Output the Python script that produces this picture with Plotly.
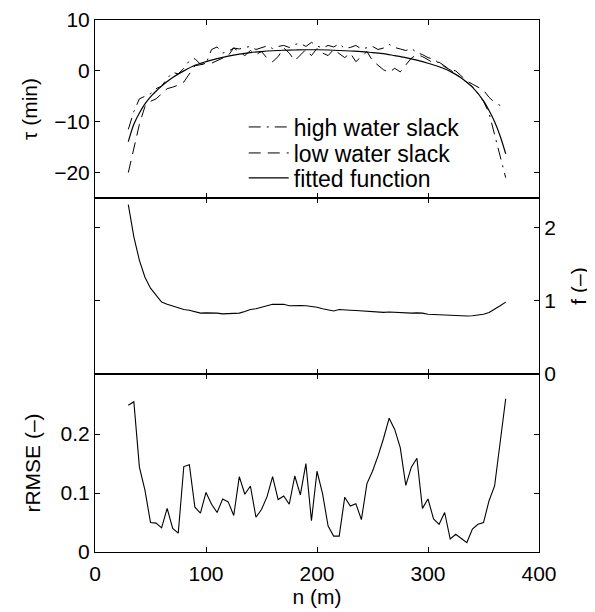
import plotly.graph_objects as go

# ---------------- data ----------------
n_obs = list(range(30, 371, 5))          # 30..370 step 5
n_low = list(range(30, 366, 5))          # 30..365 step 5

tau_high = [-11.5, -8.0, -5.5, -5.0, -4.5, -3.5, -3.0, -1.5, -0.3, -0.6,
            0.5, 2.0, 2.4, 1.3, 1.4, 4.2, 4.7, 3.5, 3.8, 4.5,
            4.3, 4.6, 4.8, 4.2, 4.5, 4.9, 4.4, 4.8, 5.0, 4.6,
            5.2, 5.4, 4.8, 5.6, 4.9, 4.5, 5.0, 4.7, 5.3, 4.4,
            4.6, 5.0, 4.3, 4.6, 4.8, 4.2, 4.5, 5.2, 4.6, 4.3,
            4.0, 4.4, 3.6, 3.2, 2.6, 2.3, 1.5, 0.8, 0.2, -0.6,
            -1.5, -2.3, -3.1, -4.5, -6.0, -8.3, -12.7, -17.0, -21.0]

tau_low = [-20.0, -15.5, -10.5, -7.0, -6.0, -5.5, -4.5, -3.5, -3.2, -2.8,
           -2.2, -0.6, 1.0, 1.2, 1.5, 1.5, 2.0, 2.4, 3.0, 4.5,
           3.8, 3.0, 4.0, 3.2, 3.8, 2.5, 1.8, 2.8, 4.5, 3.5,
           2.0, 3.2, 4.2, 3.0, 4.4, 3.5, 3.0, 4.2, 3.4, 2.6,
           3.5, 1.8, 2.8, 3.8, 2.0, 1.0, 0.2, -0.3, 0.5, -0.2,
           1.2, 2.5, 3.2, 2.8, 2.2, 1.5, 1.7, 1.0, 0.2, 0.0,
           -1.0, -2.0, -2.6, -3.2, -3.8, -5.2, -6.2, -6.8]

n_fit = [30, 35, 40, 45, 50, 55, 60, 65, 70, 80, 90, 100, 110, 120, 130, 140,
         150, 160, 170, 180, 190, 200, 210, 220, 230, 240, 250, 260, 270,
         280, 290, 300, 310, 320, 330, 340, 350, 355, 360, 365, 370]
tau_fit = [-13.9, -10.5, -8.3, -6.5, -5.1, -4.0, -3.0, -2.1, -1.3, 0.0, 1.1,
           1.8, 2.4, 2.9, 3.3, 3.6, 3.8, 3.95, 4.05, 4.1, 4.15, 4.15, 4.1,
           4.0, 3.9, 3.8, 3.6, 3.4, 3.0, 2.6, 2.1, 1.5, 0.8, -0.1, -1.4,
           -3.2, -5.9, -7.8, -10.0, -12.8, -16.3]

f_vals = [2.31, 1.87, 1.55, 1.32, 1.17, 1.07, 0.98, 0.95, 0.925, 0.91,
          0.88, 0.87, 0.853, 0.83, 0.834, 0.834, 0.83, 0.82, 0.82, 0.82,
          0.83, 0.853, 0.88, 0.89, 0.91, 0.94, 0.95, 0.95, 0.95, 0.93,
          0.935, 0.935, 0.93, 0.925, 0.91, 0.89, 0.87, 0.86, 0.88, 0.88,
          0.87, 0.865, 0.86, 0.85, 0.845, 0.845, 0.84, 0.845, 0.84, 0.83,
          0.83, 0.83, 0.834, 0.83, 0.815, 0.81, 0.807, 0.805, 0.80, 0.80,
          0.795, 0.79, 0.795, 0.80, 0.815, 0.84, 0.88, 0.93, 0.98]

rrmse = [0.249, 0.255, 0.144, 0.105, 0.050, 0.049, 0.041, 0.074, 0.040, 0.032,
         0.145, 0.148, 0.076, 0.066, 0.101, 0.081, 0.067, 0.090, 0.085, 0.062,
         0.128, 0.098, 0.112, 0.059, 0.072, 0.094, 0.128, 0.089, 0.095, 0.081,
         0.129, 0.097, 0.150, 0.053, 0.137, 0.099, 0.044, 0.027, 0.027, 0.093,
         0.078, 0.082, 0.055, 0.116, 0.137, 0.163, 0.193, 0.227, 0.208, 0.177,
         0.113, 0.144, 0.159, 0.074, 0.090, 0.056, 0.047, 0.067, 0.022, 0.030,
         0.023, 0.016, 0.039, 0.047, 0.050, 0.087, 0.112, 0.187, 0.260]

x_ticks = [0, 100, 200, 300, 400]
tau_ticks = [-20, -10, 0, 10]
f_ticks = [0, 1, 2]
r_ticks = [0, 0.1, 0.2]

# ---------------- figure ----------------
FONT = "Liberation Sans, Arial, Helvetica, sans-serif"
fig = go.Figure()

fig.add_trace(go.Scatter(x=n_obs, y=tau_high, mode="lines", name="high water slack",
                         line=dict(color="black", width=1, dash="12px,6px,2px,6px"),
                         xaxis="x3", yaxis="y3", legend="legend"))
fig.add_trace(go.Scatter(x=n_low, y=tau_low, mode="lines", name="low water slack",
                         line=dict(color="black", width=1, dash="12px,7px"),
                         xaxis="x3", yaxis="y3", legend="legend2"))
fig.add_trace(go.Scatter(x=n_fit, y=tau_fit, mode="lines", name="fitted function",
                         line=dict(color="black", width=1.2, shape="spline", smoothing=0.8),
                         xaxis="x3", yaxis="y3", legend="legend3"))
fig.add_trace(go.Scatter(x=n_obs, y=f_vals, mode="lines", showlegend=False,
                         line=dict(color="black", width=1.1),
                         xaxis="x2", yaxis="y2"))
fig.add_trace(go.Scatter(x=n_obs, y=rrmse, mode="lines", showlegend=False,
                         line=dict(color="black", width=1.1),
                         xaxis="x", yaxis="y"))

axis_common = dict(showline=True, linecolor="black", linewidth=1, mirror="ticks",
                   ticks="inside", ticklen=5, tickwidth=1, tickcolor="black",
                   showgrid=False, zeroline=False, automargin=False,
                   tickfont=dict(family=FONT, size=21, color="black"))

d1 = 178 / 532
d2 = 354 / 532


def leg(ypos):
    return dict(x=0.335, y=ypos, xanchor="left", yanchor="middle",
                bgcolor="rgba(0,0,0,0)", borderwidth=0,
                font=dict(family=FONT, size=23, color="black"), itemwidth=40)


fig.update_layout(
    width=587, height=604,
    margin=dict(l=87, r=56, t=12, b=60),
    paper_bgcolor="white", plot_bgcolor="white",
    font=dict(family=FONT, size=21, color="black"),
    showlegend=True,
    legend=leg((552 - 127) / 532),
    legend2=leg((552 - 153) / 532),
    legend3=leg((552 - 178) / 532),
    xaxis=dict(axis_common, domain=[0, 1], range=[0, 400], tickvals=x_ticks,
               anchor="y", ticklabelstandoff=3,
               title=dict(text="n (m)", font=dict(family=FONT, size=21), standoff=5)),
    xaxis2=dict(axis_common, domain=[0, 1], range=[0, 400], tickvals=x_ticks,
                matches="x", anchor="y2", showticklabels=False),
    xaxis3=dict(axis_common, domain=[0, 1], range=[0, 400], tickvals=x_ticks,
                matches="x", anchor="y3", showticklabels=False),
    yaxis=dict(axis_common, domain=[0, d1], range=[0, 0.302], tickvals=r_ticks,
               anchor="x",
               title=dict(text="rRMSE (–)", font=dict(family=FONT, size=21), standoff=14)),
    yaxis2=dict(axis_common, domain=[d1, d2], range=[0, 2.4], tickvals=f_ticks,
                side="right", anchor="x2",
                title=dict(text="f (–)", font=dict(family=FONT, size=21), standoff=16)),
    yaxis3=dict(axis_common, domain=[d2, 1], range=[-25, 10], tickvals=tau_ticks,
                anchor="x3",
                title=dict(text="τ (min)", font=dict(family=FONT, size=21), standoff=10)),
)

fig.write_html("out.html")
